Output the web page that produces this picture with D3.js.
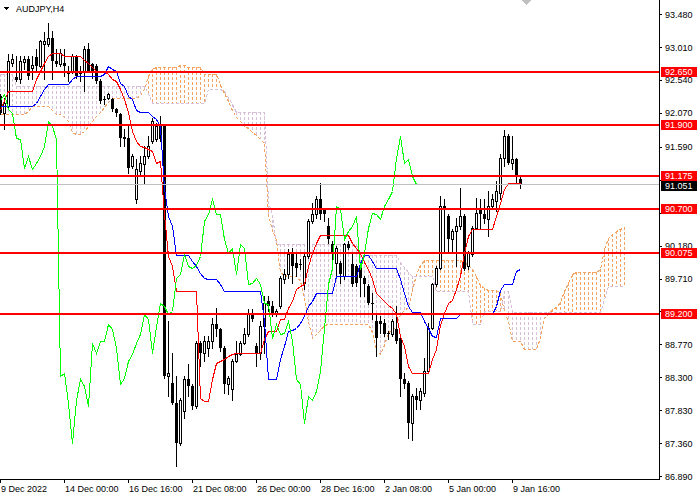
<!DOCTYPE html>
<html lang="en">
<head>
<meta charset="UTF-8">
<title>AUDJPY,H4</title>
<script src="https://d3js.org/d3.v7.min.js"></script>
<style>
    html, body { margin: 0; padding: 0; background: #fff; }
    #chart svg { display: block; font-family: "Liberation Sans", Arial, sans-serif; font-size: 9px; }
    .axis text { fill: #000; font-size: 9px; font-family: "Liberation Sans", Arial, sans-serif; }
    .axis line { stroke: #000; }
</style>
</head>
<body>
<div id="chart"></div>
<script>
// H4 candles, bar 0 = 9 Dec 2022 08:00
const opens = [
    92.314, 92.076, 92.171, 92.790, 92.590, 92.552, 92.799, 92.838, 92.719, 92.876,
    92.742, 93.052, 93.052, 93.147, 92.814, 92.766, 92.790, 92.671, 92.671, 92.885,
    92.647, 92.671, 92.980, 92.766, 92.742, 92.528, 92.267, 92.290, 92.267, 92.124,
    92.052, 91.734, 91.720, 91.315, 90.839, 91.244, 91.339, 91.458, 91.672, 91.696,
    91.910, 91.886, 88.317, 88.222, 87.937, 87.366, 87.818, 88.270, 88.175, 87.889,
    88.793, 88.651, 88.722, 88.817, 89.055, 88.984, 88.722, 88.199, 88.127, 88.532,
    88.627, 88.793, 88.912, 89.198, 88.746, 88.651, 89.031, 89.388, 89.317, 89.198,
    89.317, 89.697, 89.769, 90.054, 89.935, 89.911, 89.650, 90.030, 90.530, 90.625,
    90.839, 90.696, 90.458, 90.197, 89.935, 89.935, 89.745, 90.197, 89.911, 89.888,
    89.888, 89.721, 89.602, 89.364, 89.103, 89.103, 89.079, 88.936, 88.912, 88.984,
    88.865, 88.270, 88.222, 87.651, 88.032, 87.984, 88.080, 88.389, 89.007, 89.626,
    89.864, 90.744, 90.601, 90.268, 90.387, 90.458, 90.601, 89.888, 90.054, 90.435,
    90.720, 90.625, 90.554, 90.744, 90.815, 90.934, 91.434, 91.743, 91.363, 91.410,
    91.125
];
const highs = [
    92.338, 92.290, 92.909, 92.909, 92.885, 92.885, 92.885, 92.885, 92.885, 92.980,
    93.114, 93.228, 93.361, 93.242, 92.980, 92.980, 92.980, 92.742, 92.909, 92.895,
    92.742, 93.028, 93.075, 92.790, 92.766, 92.552, 92.314, 92.362, 92.290, 92.148,
    92.076, 91.838, 91.886, 91.482, 91.410, 91.458, 91.601, 91.743, 92.005, 91.933,
    92.029, 91.910, 89.103, 88.651, 88.317, 88.008, 88.317, 88.484, 88.199, 88.817,
    88.817, 88.889, 88.889, 89.150, 89.293, 89.007, 88.746, 88.317, 88.555, 88.817,
    88.817, 89.007, 89.269, 89.269, 88.793, 89.103, 89.459, 89.459, 89.388, 89.269,
    89.745, 89.840, 90.126, 90.149, 90.054, 89.983, 90.054, 90.554, 90.792, 90.887,
    91.068, 90.720, 90.578, 90.245, 90.173, 89.959, 90.221, 90.245, 90.054, 89.911,
    89.911, 89.745, 89.626, 89.507, 89.221, 89.174, 89.126, 88.960, 89.126, 89.317,
    88.889, 88.365, 88.246, 88.056, 88.151, 88.151, 88.579, 89.079, 89.650, 89.888,
    90.887, 90.839, 90.625, 90.411, 90.578, 91.006, 90.625, 90.102, 90.458, 90.863,
    90.839, 90.839, 90.958, 90.911, 91.101, 91.482, 91.824, 91.767, 91.743, 91.434,
    91.172
];
const lows = [
    92.052, 91.838, 92.148, 92.742, 92.528, 92.504, 92.695, 92.552, 92.552, 92.671,
    92.733, 92.552, 93.028, 92.552, 92.742, 92.742, 92.600, 92.528, 92.647, 92.576,
    92.528, 92.386, 92.657, 92.576, 92.504, 92.219, 92.195, 92.267, 92.100, 92.029,
    91.601, 91.601, 91.220, 91.291, 90.782, 91.172, 91.077, 91.434, 91.648, 91.672,
    91.672, 88.294, 88.032, 87.913, 87.033, 87.342, 87.723, 88.032, 87.842, 87.866,
    88.460, 88.532, 88.603, 88.722, 88.889, 88.674, 88.080, 88.056, 87.984, 88.517,
    88.613, 88.769, 88.889, 89.103, 88.460, 88.555, 88.651, 89.245, 89.174, 89.174,
    89.293, 89.650, 89.721, 89.650, 89.745, 89.840, 89.555, 90.007, 90.506, 90.578,
    90.554, 90.530, 90.221, 89.935, 89.745, 89.650, 89.697, 90.126, 89.602, 89.602,
    89.459, 89.459, 89.340, 89.126, 88.603, 88.936, 88.889, 88.841, 88.889, 88.793,
    88.032, 88.151, 87.437, 87.413, 87.842, 87.842, 88.032, 88.365, 88.984, 89.602,
    89.840, 90.078, 90.078, 90.102, 89.888, 90.411, 89.831, 89.840, 90.030, 90.411,
    90.411, 90.506, 90.316, 90.696, 90.673, 90.839, 91.315, 91.339, 91.267, 91.077,
    91.006
];
const closes = [
    92.076, 92.219, 92.814, 92.838, 92.543, 92.814, 92.838, 92.600, 92.752, 92.742,
    93.099, 93.099, 93.147, 92.814, 92.766, 92.933, 92.742, 92.623, 92.885, 92.600,
    92.623, 92.980, 92.671, 92.647, 92.528, 92.243, 92.257, 92.338, 92.124, 92.076,
    91.720, 91.705, 91.291, 91.458, 91.267, 91.363, 91.458, 91.601, 91.957, 91.886,
    91.696, 88.317, 88.355, 87.937, 87.366, 87.984, 88.270, 88.175, 87.889, 88.793,
    88.651, 88.817, 88.817, 89.055, 88.984, 88.722, 88.199, 88.294, 88.532, 88.627,
    88.793, 88.912, 89.198, 89.126, 88.641, 89.031, 89.364, 89.317, 89.198, 89.245,
    89.721, 89.769, 90.054, 89.888, 89.864, 89.902, 90.030, 90.530, 90.625, 90.839,
    90.625, 90.625, 90.268, 90.078, 90.149, 89.769, 90.197, 90.149, 89.626, 89.650,
    89.721, 89.626, 89.364, 89.341, 88.865, 89.055, 88.912, 88.927, 89.103, 88.817,
    88.270, 88.199, 87.651, 88.032, 87.984, 88.103, 88.389, 89.007, 89.626, 89.864,
    90.744, 90.696, 90.268, 90.387, 90.458, 90.601, 89.840, 90.078, 90.435, 90.649,
    90.625, 90.554, 90.744, 90.839, 90.958, 91.434, 91.743, 91.363, 91.410, 91.172,
    91.051
];

// Ichimoku lines
const tenkan = [
    92.12, 92.25, 92.39, 92.39, 92.39, 92.39, 92.39, 92.39, 92.39, 92.55,
    92.67, 92.78, 92.88, 92.93, 92.93, 92.93, 92.88, 92.88, 92.88, 92.88,
    92.88, 92.82, 92.79, 92.72, 92.67, 92.67, 92.67, 92.62, 92.55, 92.53,
    92.41, 92.27, 92.08, 91.82, 91.67, 91.60, 91.58, 91.56, 91.53, 91.36,
    91.38, 90.63, 90.03, 89.89, 89.53, 89.53, 89.53, 89.53, 89.53, 89.53,
    88.00, 87.96, 87.96, 88.27, 88.51, 88.53, 88.56, 88.60, 88.63, 88.65,
    88.65, 88.65, 88.65, 88.65, 88.65, 88.65, 88.84, 88.96, 88.96, 88.96,
    89.13, 89.13, 89.29, 89.39, 89.56, 89.60, 89.63, 89.89, 90.08, 90.22,
    90.33, 90.33, 90.33, 90.33, 90.33, 90.33, 90.33, 90.33, 90.22, 90.15,
    90.08, 89.95, 89.85, 89.70, 89.51, 89.45, 89.39, 89.33, 89.29, 89.20,
    88.89, 88.75, 88.46, 88.36, 88.36, 88.36, 88.36, 88.36, 88.56, 88.70,
    89.05, 89.22, 89.36, 89.41, 89.56, 89.74, 90.08, 90.32, 90.41, 90.41,
    90.41, 90.41, 90.41, 90.41, 90.60, 90.79, 90.98, 91.07, 91.07, 91.07,
    91.07
];
const kijun = [
    92.17, 92.17, 92.17, 92.17, 92.17, 92.17, 92.17, 92.17, 92.17, 92.22,
    92.31, 92.42, 92.48, 92.48, 92.48, 92.48, 92.48, 92.48, 92.55, 92.60,
    92.60, 92.60, 92.60, 92.60, 92.60, 92.60, 92.62, 92.74, 92.70, 92.67,
    92.50, 92.46, 92.31, 92.27, 92.12, 92.08, 92.08, 92.08, 92.03, 91.98,
    91.89, 91.00, 90.60, 90.46, 90.05, 90.05, 90.05, 90.05, 89.96, 89.89,
    89.79, 89.72, 89.70, 89.70, 89.70, 89.63, 89.53, 89.53, 89.53, 89.53,
    89.53, 89.53, 89.53, 89.53, 89.53, 89.53, 89.10, 88.27, 88.27, 88.27,
    88.56, 88.75, 88.96, 88.98, 89.01, 89.08, 89.17, 89.32, 89.39, 89.50,
    89.51, 89.51, 89.51, 89.51, 89.74, 89.74, 89.74, 89.74, 89.74, 89.74,
    89.93, 90.05, 90.05, 89.96, 89.86, 89.86, 89.86, 89.86, 89.86, 89.86,
    89.70, 89.50, 89.32, 89.23, 89.23, 89.23, 89.10, 89.01, 88.89, 88.87,
    89.15, 89.15, 89.15, 89.15, 89.15, 89.20, 89.20, 89.20, 89.20, 89.20,
    89.20, 89.20, 89.20, 89.20, 89.32, 89.55, 89.63, 89.63, 89.63, 89.82,
    89.84
];
// Senkou spans, already shifted 26 bars ahead (bars 0..156)
const spanA = [
    92.05, 92.05, 92.05, 92.05, 92.05, 92.05, 92.05, 92.10, 92.17, 92.17,
    92.17, 92.17, 92.17, 92.12, 92.05, 92.05, 92.02, 91.95, 91.80, 91.77,
    91.77, 91.82, 91.88, 91.96, 92.03, 92.08, 92.15, 92.23, 92.29, 92.29,
    92.29, 92.29, 92.29, 92.29, 92.29, 92.33, 92.42, 92.60, 92.70, 92.72,
    92.72, 92.72, 92.72, 92.72, 92.72, 92.76, 92.76, 92.72, 92.72, 92.72,
    92.72, 92.62, 92.62, 92.62, 92.62, 92.48, 92.36, 92.24, 92.12, 92.02,
    91.96, 91.88, 91.85, 91.80, 91.75, 91.70, 91.64, 90.62, 90.40, 90.26,
    89.80, 89.76, 89.75, 89.75, 89.74, 89.68, 89.45, 89.10, 88.86, 88.92,
    88.98, 89.04, 89.06, 89.06, 89.06, 89.06, 89.06, 89.06, 89.06, 89.06,
    89.06, 89.06, 89.06, 88.95, 88.68, 88.64, 88.76, 88.94, 88.98, 89.05,
    89.20, 89.26, 89.30, 89.55, 89.78, 89.90, 89.97, 89.97, 89.97, 89.97,
    89.97, 89.97, 89.97, 89.97, 89.97, 89.97, 89.95, 89.90, 89.84, 89.75,
    89.62, 89.58, 89.55, 89.55, 89.55, 89.50, 89.24, 89.10, 88.82, 88.82,
    88.82, 88.70, 88.70, 88.70, 88.70, 88.86, 89.15, 89.20, 89.27, 89.31,
    89.37, 89.53, 89.65, 89.77, 89.80, 89.80, 89.80, 89.80, 89.80, 89.80,
    89.84, 90.13, 90.29, 90.34, 90.39, 90.42, 90.45
];
const spanB = [
    92.62, 92.62, 92.62, 92.62, 92.46, 92.46, 92.46, 92.46, 92.46, 92.46,
    92.46, 92.46, 92.46, 92.46, 92.46, 92.46, 92.46, 92.46, 92.46, 92.46,
    92.46, 92.46, 92.46, 92.46, 92.46, 92.46, 92.46, 92.46, 92.46, 92.46,
    92.46, 92.46, 92.46, 92.46, 92.46, 92.46, 92.46, 92.35, 92.22, 92.22,
    92.22, 92.22, 92.22, 92.22, 92.22, 92.22, 92.22, 92.22, 92.22, 92.22,
    92.22, 92.22, 92.41, 92.41, 92.41, 92.41, 92.38, 92.30, 92.20, 92.08,
    92.08, 92.08, 92.08, 92.08, 92.08, 92.08, 92.08, 90.82, 90.62, 90.20,
    90.20, 90.20, 90.20, 90.20, 90.20, 90.20, 90.20, 90.20, 90.20, 90.20,
    90.20, 90.20, 90.20, 90.20, 90.20, 90.20, 90.20, 90.20, 90.20, 90.20,
    90.05, 90.05, 90.05, 90.05, 90.05, 90.05, 90.05, 90.05, 90.05, 90.05,
    89.95, 89.88, 89.80, 89.74, 89.74, 89.74, 89.74, 89.74, 89.74, 89.53,
    89.53, 89.53, 89.53, 89.53, 89.53, 89.53, 89.53, 89.53, 89.06, 89.06,
    89.06, 89.24, 89.24, 89.24, 89.24, 89.24, 89.53, 89.53, 89.23, 89.23,
    89.23, 89.23, 89.23, 89.23, 89.23, 89.23, 89.23, 89.23, 89.23, 89.23,
    89.23, 89.23, 89.23, 89.23, 89.23, 89.23, 89.23, 89.23, 89.23, 89.23,
    89.23, 89.42, 89.61, 89.61, 89.61, 89.61, 89.61
];
const chikouShift = 26;

const levels = [92.650, 91.900, 91.175, 90.700, 90.075, 89.200];
const bidPrice = 91.051;

const priceTicks = [93.48, 93.01, 92.54, 92.07, 91.59, 91.12, 90.65, 90.18, 89.71, 89.24, 88.77, 88.30, 87.83, 87.36, 86.89];
const timeTickBars = [0, 16, 32, 48, 64, 80, 96, 112, 128];
const timeLabels = ["9 Dec 2022", "14 Dec 00:00", "16 Dec 16:00", "21 Dec 08:00", "26 Dec 00:00",
                    "28 Dec 16:00", "2 Jan 08:00", "5 Jan 00:00", "9 Jan 16:00"];

const width = 700, height = 500;
const plotRight = 659, plotBottom = 479;

const x = d3.scaleLinear().domain([0, 164.75]).range([0, plotRight]);
const y = d3.scaleLinear().domain([86.89, 93.48]).range([476.2, 14.2]);

const svg = d3.select("#chart").append("svg")
    .attr("width", width)
    .attr("height", height)
    .attr("shape-rendering", "crispEdges");

svg.append("defs").append("clipPath").attr("id", "plotClip")
    .append("rect").attr("x", 0).attr("y", 0).attr("width", plotRight).attr("height", plotBottom);

const plot = svg.append("g").attr("clip-path", "url(#plotClip)");
const px = i => x(i) + 0.5;

// Kumo: dotted verticals between the spans
const cloud = spanA.map((a, i) => ({ i, a, b: spanB[i] }));
plot.append("g").selectAll("line")
    .data(cloud)
    .join("line")
    .attr("x1", d => px(d.i)).attr("x2", d => px(d.i))
    .attr("y1", d => Math.round(y(Math.max(d.a, d.b))))
    .attr("y2", d => Math.round(y(Math.min(d.a, d.b))))
    .attr("stroke", d => d.a >= d.b ? "#f4a460" : "#d8bfd8")
    .attr("stroke-dasharray", "3,2");

plot.append("path")
    .datum(cloud)
    .attr("fill", "none").attr("stroke", "#f4a460").attr("stroke-dasharray", "3,2")
    .attr("d", d3.line().x(d => px(d.i)).y(d => Math.round(y(d.a)) + 0.5));
plot.append("path")
    .datum(cloud)
    .attr("fill", "none").attr("stroke", "#d8bfd8").attr("stroke-dasharray", "3,2")
    .attr("d", d3.line().x(d => px(d.i)).y(d => Math.round(y(d.b)) + 0.5));

// Candles
const bars = closes.map((c, i) => ({ i, o: opens[i], h: highs[i], l: lows[i], c }));
const candle = plot.append("g").selectAll("g")
    .data(bars)
    .join("g");

candle.append("line")
    .attr("x1", d => px(d.i)).attr("x2", d => px(d.i))
    .attr("y1", d => Math.round(y(d.h)))
    .attr("y2", d => Math.round(y(d.l)) + 1)
    .attr("stroke", "#000");

candle.append("rect")
    .attr("x", d => d.c >= d.o ? x(d.i) - 0.5 : x(d.i) - 1)
    .attr("y", d => Math.round(y(Math.max(d.o, d.c))) + (d.c >= d.o ? 0.5 : 0))
    .attr("width", d => d.c >= d.o ? 2 : 3)
    .attr("height", d => {
        const hgt = Math.round(y(Math.min(d.o, d.c))) - Math.round(y(Math.max(d.o, d.c)));
        return d.c >= d.o ? Math.max(hgt, 0) : Math.max(hgt, 1);
    })
    .attr("fill", d => d.c >= d.o ? "#fff" : "#000")
    .attr("stroke", d => d.c >= d.o ? "#000" : "none");

// Tenkan, Kijun, Chikou
const lineGen = d3.line().x(d => px(d[0])).y(d => Math.round(y(d[1])) + 0.5);
plot.append("path")
    .datum(tenkan.map((v, i) => [i, v]))
    .attr("fill", "none").attr("stroke", "#ff0000")
    .attr("d", lineGen);
plot.append("path")
    .datum(kijun.map((v, i) => [i, v]))
    .attr("fill", "none").attr("stroke", "#0000ff")
    .attr("d", lineGen);
plot.append("path")
    .datum(closes.slice(chikouShift).map((v, i) => [i, v]))
    .attr("fill", "none").attr("stroke", "#00ff00")
    .attr("d", lineGen);

// Bid line
plot.append("line")
    .attr("x1", 0).attr("x2", plotRight)
    .attr("y1", Math.round(y(bidPrice)) + 0.5).attr("y2", Math.round(y(bidPrice)) + 0.5)
    .attr("stroke", "#c0c0c0");

// Horizontal levels
plot.append("g").selectAll("line")
    .data(levels)
    .join("line")
    .attr("x1", 0).attr("x2", plotRight)
    .attr("y1", d => Math.round(y(d))).attr("y2", d => Math.round(y(d)))
    .attr("stroke", "#ff0000").attr("stroke-width", 2);

// Chart shift marker
svg.append("path").attr("d", "M521,0 L531,0 L526,5 Z").attr("fill", "#c0c0c0");

// Frame lines
svg.append("line").attr("x1", plotRight + 0.5).attr("x2", plotRight + 0.5)
    .attr("y1", 0).attr("y2", plotBottom + 1).attr("stroke", "#000");
svg.append("line").attr("x1", 0).attr("x2", plotRight + 1)
    .attr("y1", plotBottom + 0.5).attr("y2", plotBottom + 0.5).attr("stroke", "#000");

// Price axis; labels sitting right under a level tag are covered in the original, so skip their text
const covered = p => levels.some(l => Math.abs(y(l) - y(p)) < 5);
const yAxis = svg.append("g")
    .attr("class", "axis")
    .attr("transform", `translate(${plotRight},0)`)
    .call(d3.axisRight(y).tickValues(priceTicks).tickSize(3).tickPadding(3)
        .tickFormat(d => covered(d) ? "" : d3.format(".3f")(d)));
yAxis.select(".domain").remove();

// Time axis
const xAxis = svg.append("g")
    .attr("class", "axis")
    .attr("transform", `translate(0,${plotBottom})`)
    .call(d3.axisBottom(x).tickValues(timeTickBars).tickSize(4).tickPadding(3)
        .tickFormat((d, i) => timeLabels[i]));
xAxis.select(".domain").remove();
xAxis.selectAll("text").attr("text-anchor", "start").attr("x", 0.5);

// Level price tags
const tags = svg.append("g").selectAll("g")
    .data(levels)
    .join("g")
    .attr("transform", d => `translate(661,${Math.round(y(d))})`);
tags.append("rect").attr("x", 0).attr("y", -5).attr("width", 36).attr("height", 10).attr("fill", "#ff0000");
tags.append("text").attr("x", 4).attr("y", 3.3).attr("fill", "#fff").text(d => d.toFixed(3));

// Bid tag
const bidTag = svg.append("g").attr("transform", `translate(661,${Math.round(y(bidPrice)) + 1})`);
bidTag.append("rect").attr("x", 0).attr("y", -4).attr("width", 36).attr("height", 10).attr("fill", "#000");
bidTag.append("text").attr("x", 4).attr("y", 4.3).attr("fill", "#fff").text(bidPrice.toFixed(3));

// Title
svg.append("path").attr("d", "M3,7 L9,7 L6,10 Z").attr("fill", "#000");
svg.append("text").attr("x", 16).attr("y", 12).attr("fill", "#000").text("AUDJPY,H4");
</script>
</body>
</html>
